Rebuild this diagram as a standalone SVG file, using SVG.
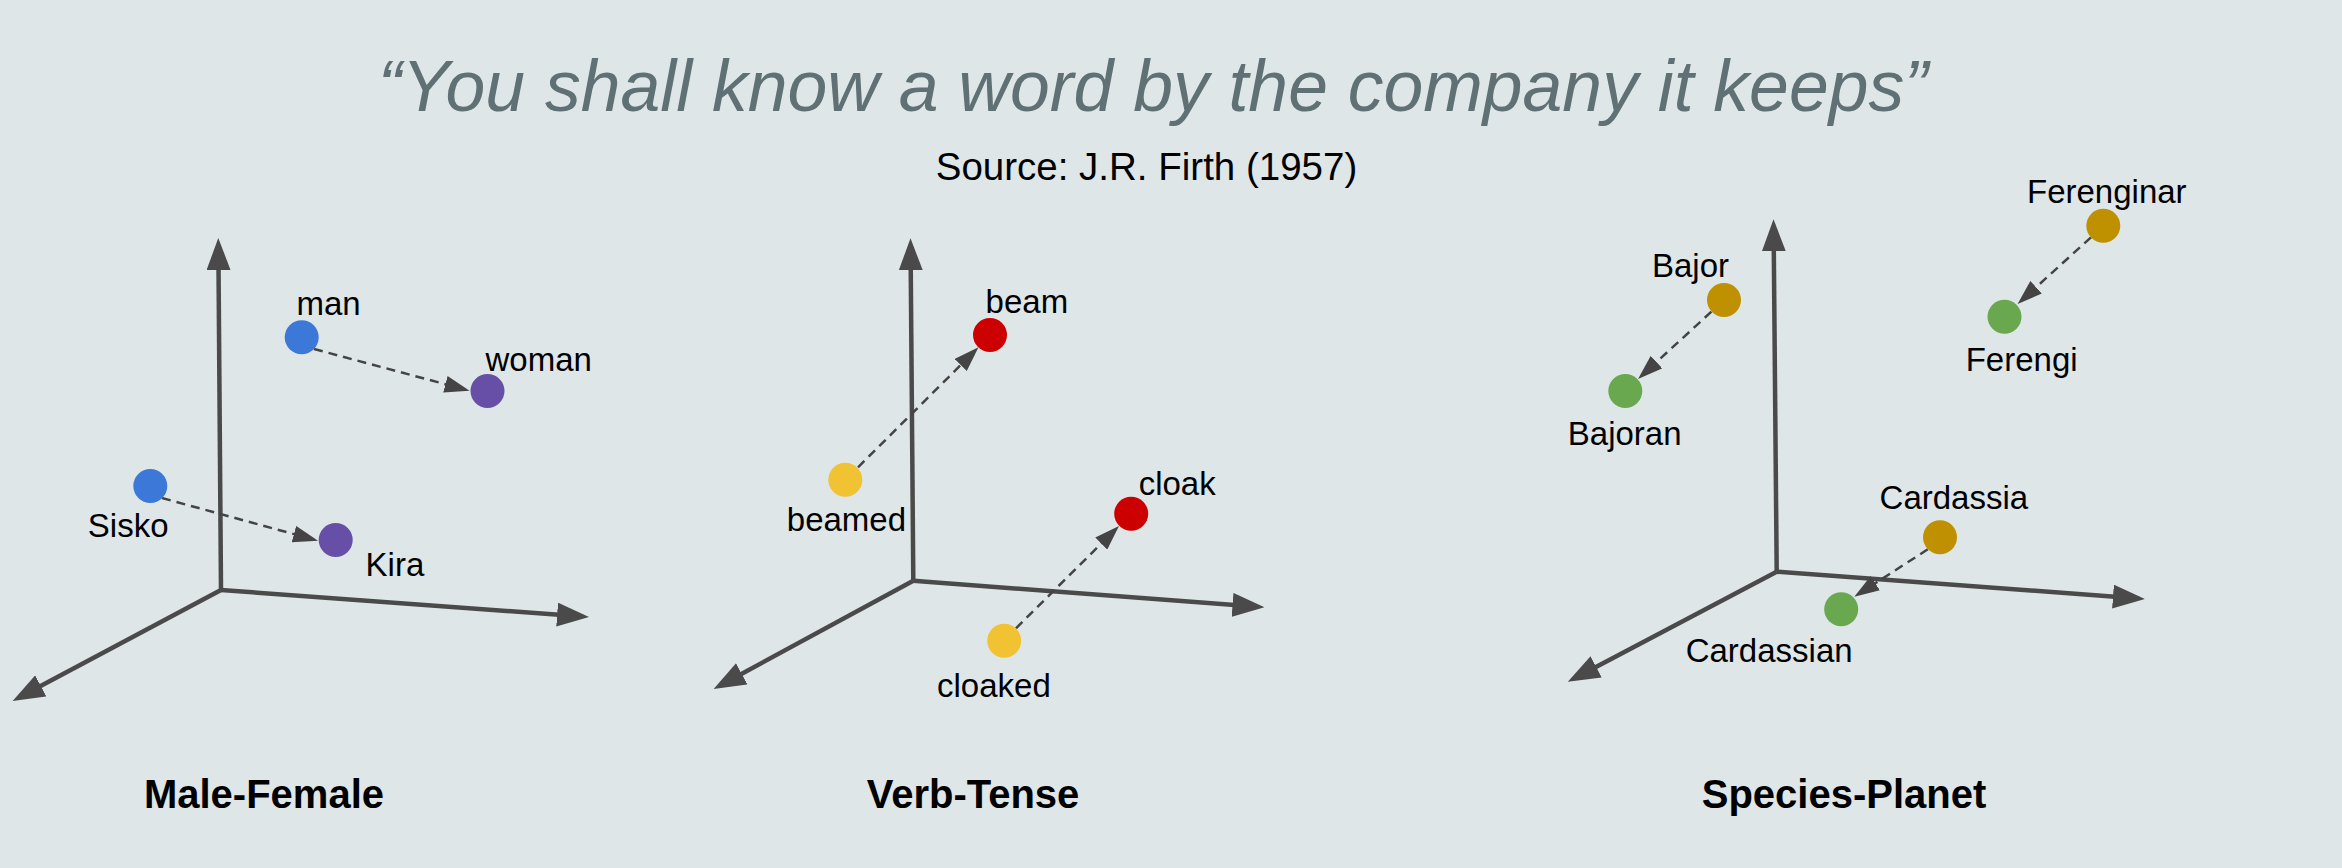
<svg xmlns="http://www.w3.org/2000/svg" width="2342" height="868" viewBox="0 0 2342 868">
<defs>
<marker id="axhead" viewBox="0 0 32 24" refX="12" refY="12" markerWidth="32" markerHeight="24" markerUnits="userSpaceOnUse" orient="auto">
<path d="M0,0 L32,12 L0,24 z" fill="#4a4a4a"/>
</marker>
<marker id="dhead" viewBox="0 0 25 17" refX="15" refY="8.5" markerWidth="25" markerHeight="17" markerUnits="userSpaceOnUse" orient="auto">
<path d="M0,0 L25,8.5 L0,17 z" fill="#444444"/>
</marker>
<style>
.axis{stroke:#4a4a4a;stroke-width:4.5;fill:none;marker-end:url(#axhead)}
.dash{stroke:#444444;stroke-width:2.5;fill:none;stroke-dasharray:9 6;marker-end:url(#dhead)}
.lbl{font-family:"Liberation Sans",Arial,sans-serif;font-size:33px;fill:#000}
.ttl{font-family:"Liberation Sans",Arial,sans-serif;font-size:40px;font-weight:bold;fill:#000;text-anchor:middle}
.blue{fill:#3c78d8}.purple{fill:#674ea7}.yellow{fill:#f1c232}.red{fill:#cc0000}.gold{fill:#bf9000}.green{fill:#6aa84f}
</style>
</defs>
<rect width="2342" height="868" fill="#dfe6e8"/>
<text x="1153" y="111" text-anchor="middle" font-family="Liberation Sans, Arial, sans-serif" font-style="italic" font-size="71.5" fill="#5f7175">“You shall know a word by the company it keeps”</text>
<text x="1146.5" y="180" text-anchor="middle" font-family="Liberation Sans, Arial, sans-serif" font-size="38.5" fill="#000">Source: J.R. Firth (1957)</text>

<g id="axes">
<path class="axis" d="M221,590 L218.45,258"/>
<path class="axis" d="M221,590 L569.1,615.5"/>
<path class="axis" d="M221,590 L30.25,691.6"/>
<path class="axis" d="M913.3,580.7 L910.66,258.3"/>
<path class="axis" d="M913.3,580.7 L1244.5,605.8"/>
<path class="axis" d="M913.3,580.7 L731.2,679.5"/>
<path class="axis" d="M1776.7,571.7 L1773.7,239.3"/>
<path class="axis" d="M1776.7,571.7 L2124.96,597.5"/>
<path class="axis" d="M1776.7,571.7 L1585.5,672.4"/>
</g>

<g id="connectors">
<path class="dash" d="M314,349 L459.9,388.1"/>
<path class="dash" d="M162,498 L308.4,538.1"/>
<path class="dash" d="M858,467.3 L971.4,354.4"/>
<path class="dash" d="M1016,628.3 L1111.9,533"/>
<path class="dash" d="M2091,237.3 L2025,297.3"/>
<path class="dash" d="M1711.4,311.7 L1645.4,372.2"/>
<path class="dash" d="M1927.8,549.3 L1862.7,591.3"/>
</g>

<g id="man"><circle class="blue" cx="301.7" cy="337.3" r="17"/><text class="lbl" x="296.5" y="315">man</text></g>
<g id="woman"><circle class="purple" cx="487.5" cy="391" r="17"/><text class="lbl" x="485.5" y="370.7">woman</text></g>
<g id="sisko"><circle class="blue" cx="150.3" cy="486" r="17"/><text class="lbl" x="87.8" y="536.7">Sisko</text></g>
<g id="kira"><circle class="purple" cx="335.7" cy="540" r="17"/><text class="lbl" x="365.6" y="576">Kira</text></g>

<g id="beam"><circle class="red" cx="990" cy="335" r="17"/><text class="lbl" x="985.6" y="313.3">beam</text></g>
<g id="beamed"><circle class="yellow" cx="845.3" cy="479.7" r="17"/><text class="lbl" x="786.8" y="530.7">beamed</text></g>
<g id="cloak"><circle class="red" cx="1131.2" cy="513.7" r="17"/><text class="lbl" x="1138.7" y="495">cloak</text></g>
<g id="cloaked"><circle class="yellow" cx="1004.2" cy="640.7" r="17"/><text class="lbl" x="937" y="697.3">cloaked</text></g>

<g id="ferenginar"><circle class="gold" cx="2103.3" cy="225.7" r="17"/><text class="lbl" x="2027" y="202.7">Ferenginar</text></g>
<g id="ferengi"><circle class="green" cx="2004.5" cy="316.7" r="17"/><text class="lbl" x="1965.7" y="370.7">Ferengi</text></g>
<g id="bajor"><circle class="gold" cx="1724" cy="300" r="17"/><text class="lbl" x="1652" y="276.7">Bajor</text></g>
<g id="bajoran"><circle class="green" cx="1625.3" cy="391" r="17"/><text class="lbl" x="1567.8" y="445">Bajoran</text></g>
<g id="cardassia"><circle class="gold" cx="1940" cy="537.3" r="17"/><text class="lbl" x="1879.6" y="509">Cardassia</text></g>
<g id="cardassian"><circle class="green" cx="1841.2" cy="609.3" r="17"/><text class="lbl" x="1685.7" y="661.7">Cardassian</text></g>

<g id="titles">
<text class="ttl" x="264" y="808">Male-Female</text>
<text class="ttl" x="973" y="808">Verb-Tense</text>
<text class="ttl" x="1844" y="808">Species-Planet</text>
</g>
</svg>
